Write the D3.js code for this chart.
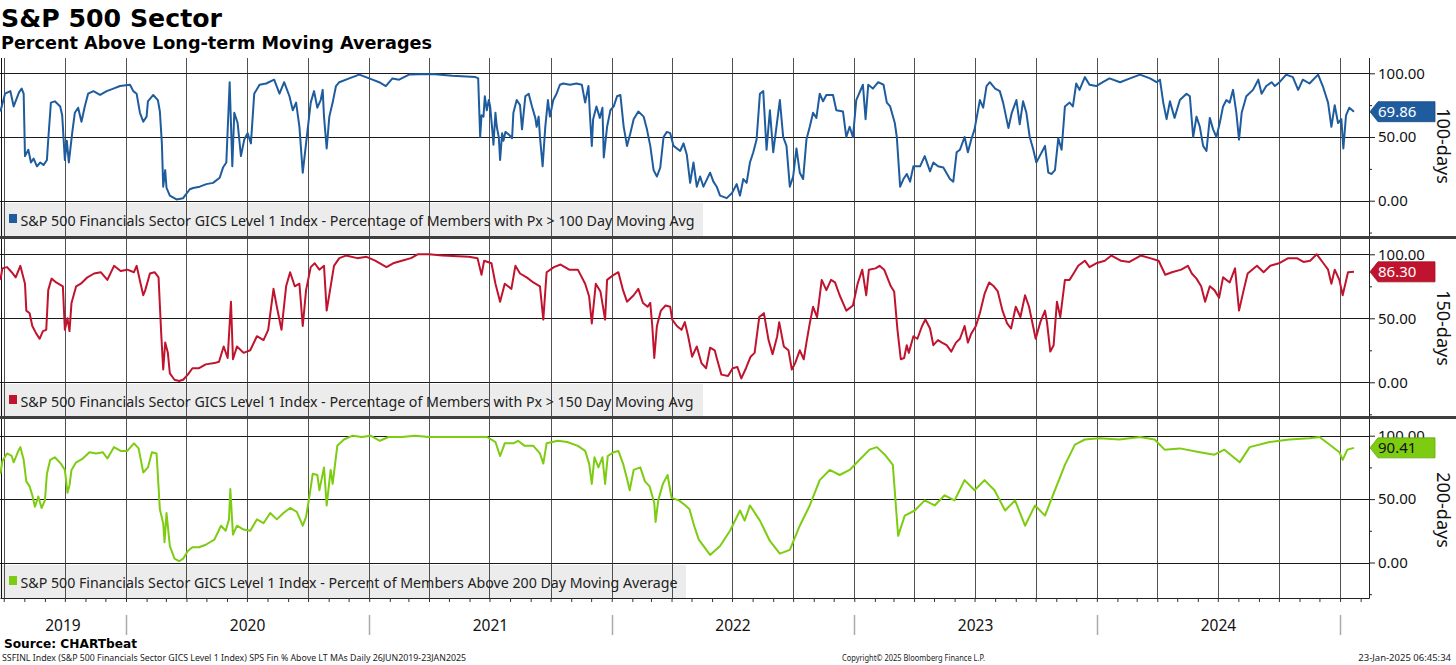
<!DOCTYPE html>
<html>
<head>
<meta charset="utf-8">
<script src="https://cdn.jsdelivr.net/npm/d3@7"></script>
<style>
  body { margin: 0; background: #fff; }
  svg { display: block; font-family: "Noto Sans", sans-serif; }
</style>
</head>
<body>
<svg id="chart" width="1456" height="665"></svg>
<script>
// calendar day offsets from the first date (26 Jun 2019) and % of members above the MA
const startDate = new Date(2019, 5, 26);

const days100 = [0,7,15,20,28,32,35,37,42,46,50,55,60,65,70,72,76,82,90,93,97,100,103,108,112,117,122,127,132,140,150,160,170,180,195,200,205,210,215,220,222,230,237,240,243,245,248,250,255,265,275,285,290,300,310,320,330,335,340,345,349,352,357,362,367,372,377,382,390,400,412,420,427,435,440,445,450,455,460,467,472,477,482,485,487,491,495,500,505,510,525,540,550,560,570,580,590,600,615,650,680,715,
  719,722,724,727,729,732,735,737,740,742,745,747,750,752,755,757,760,765,770,772,777,782,785,790,795,800,805,807,810,812,816,820,824,827,832,837,842,847,857,867,875,880,885,887,890,892,897,902,906,908,913,918,923,928,933,938,943,948,953,960,968,973,978,983,988,993,998,1003,1008,1013,1023,1028,1033,1038,1043,1048,1053,1058,1068,1073,1078,1083,1093,1101,1108,1113,1118,1123,1128,1133,1138,1143,1148,1153,1158,1163,1173,1178,1183,1188,1193,1198,1203,1208,1213,1218,1223,1228,1233,1238,1243,1253,1258,1268,1273,1278,1283,1288,1298,1302,1306,1313,1321,1329,1334,1339,1346,1349,1354,
  1359,1364,1369,1374,1384,1391,1399,1404,1411,1419,1429,1434,1439,1444,1451,1456,1461,1466,1474,1479,1484,1489,1497,1504,1509,1517,1522,1529,1534,1539,1544,1549,1554,1559,1564,1572,1577,1582,1587,1592,1597,1602,1609,1614,1619,1624,1632,1639,1649,1659,1669,1685,1700,1715,1730,1740,1745,1750,1755,1760,1767,1775,1785,1790,1795,1800,1805,1810,1815,1820,1825,1830,1835,1840,1845,1850,1855,1860,1864,1868,1875,1885,1893,1898,1905,1913,1918,1925,1935,1945,1953,1960,1970,1983,1990,1998,2003,2008,2013,2018,2021,2025,2030,2037];
const pct100 = [70,84,86,74,85,88,84,35,40,30,33,27,30,28,32,48,77,78,74,67,32,47,30,53,69,73,62,74,84,86,83,86,88,90,91,86,84,69,62,66,78,83,79,70,45,11,24,10,4,1,2,9,10,11,13,14,18,26,30,93,27,69,61,35,48,53,45,84,91,92,95,84,93,82,71,77,58,22,45,77,86,73,79,87,66,41,66,77,90,93,96,99,97,95,93,90,96,95,99,99.5,98,97,
  96,50,67,66,82,71,79,74,57,44,69,58,50,32,53,47,54,52,49,69,79,75,56,82,84,74,65,58,66,50,27,58,79,66,79,84,91,92,91,92,91,77,90,69,43,64,74,65,73,34,58,71,74,82,83,58,43,53,64,70,66,56,43,24,19,26,50,54,53,43,39,45,36,14,30,11,19,11,22,15,11,4,2,6,13,4,17,14,30,38,48,84,86,40,71,38,79,50,43,11,19,41,22,17,48,58,69,65,84,78,83,83,71,70,50,58,50,79,91,64,91,88,93,91,77,74,61,50,11,
  17,21,15,27,27,35,23,30,27,26,17,15,38,40,50,38,48,56,79,73,90,93,88,86,77,57,69,79,60,78,69,50,41,30,35,43,22,21,24,49,40,74,77,74,92,87,97,91,90,93,96,93,96,99,96,93,95,77,64,78,65,79,84,82,50,66,58,43,39,65,56,50,61,74,79,77,87,69,48,69,82,87,95,84,90,93,90,93,99,97,87,95,92,99,90,77,58,75,61,64,41,67,73,69.86];

const days150 = [0,3,10,17,23,30,37,39,44,48,54,59,64,69,72,77,84,94,97,101,104,107,114,121,131,141,151,161,171,181,191,201,205,211,215,218,225,232,238,242,245,248,252,255,262,269,275,282,289,299,309,322,329,336,342,347,350,356,366,376,386,396,403,411,416,423,430,436,443,450,455,460,467,473,480,487,491,497,502,510,520,537,551,564,581,591,604,618,628,645,665,705,718,724,728,739,745,752,759,769,775,782,792,802,812,817,822,833,843,856,869,880,886,890,896,903,910,913,923,930,937,943,953,960,967,974,
  978,981,984,988,994,1001,1008,1011,1018,1025,1030,1035,1041,1048,1055,1062,1068,1075,1078,1085,1095,1102,1109,1115,1122,1129,1135,1142,1149,1156,1162,1169,1172,1179,1186,1191,1196,1203,1209,1213,1218,1223,1229,1236,1243,1250,1256,1263,1273,1283,1290,1297,1303,1307,1317,1323,1330,1340,1345,1350,1355,1360,1364,1367,1374,1380,1387,1392,1399,1404,1411,1417,1424,1431,1438,1444,1451,1456,1461,1468,1474,1481,1488,1495,1501,1508,1515,1521,1528,1535,1542,1548,1554,1558,1565,1572,1575,1580,1585,1590,1595,1602,1609,1615,1622,1632,1639,1649,1662,1672,1686,1699,1716,1730,1743,1753,1763,1777,1787,1793,1800,1807,1813,1820,1827,1834,1840,1850,1858,1864,1871,1877,1891,1901,1911,1924,1938,1951,1961,1971,1981,1991,1998,2003,2008,2015,2020,2028,2037];
const pct150 = [80,89,90,86,82,91,77,56,54,44,38,34,40,41,72,81,78,75,41,50,40,62,75,77,82,85,86,80,91,87,88,86,91,77,68,72,85,86,82,38,10,31,23,7,2,1,2,6,11,11,14,15,16,28,19,63,18,28,23,25,36,33,41,73,59,41,75,86,75,77,44,72,90,93,88,91,56,75,91,97,99,97,98,95,90,93,95,97,100,100,99,98,97,84,95,93,77,63,77,73,91,85,82,78,75,49,86,90,92,88,88,77,67,46,77,71,49,80,84,86,72,63,68,73,62,59,
  62,44,19,44,56,60,59,49,44,41,47,36,20,28,15,11,27,25,19,6,5,11,12,3,11,20,23,51,54,33,22,36,47,28,25,10,15,25,18,31,46,59,51,80,72,80,78,68,56,60,77,88,68,88,89,91,88,75,71,41,18,19,29,23,36,34,44,49,42,29,33,31,29,24,31,34,44,31,38,44,54,69,78,75,71,56,46,42,59,51,68,59,44,34,47,56,47,24,29,63,51,80,80,85,91,95,90,93,95,99,95,94,99,97,95,84,86,88,91,85,81,75,63,75,72,66,82,78,89,56,72,85,91,86,91,93,97,97,94,95,100,93,88,77,88,80,68,86,86.3];

const days200 = [0,3,10,17,20,27,30,35,39,44,48,52,57,62,67,70,75,82,91,97,101,104,107,114,124,134,144,154,161,171,181,191,201,208,215,222,228,235,240,245,247,250,255,262,269,275,282,289,299,309,322,332,339,344,346,350,356,366,376,386,396,406,416,426,436,446,455,460,465,470,477,480,487,491,497,500,507,517,530,544,557,571,584,604,624,645,671,712,732,739,745,752,759,772,779,789,802,812,817,822,839,853,869,880,886,890,894,900,906,910,914,923,930,937,943,947,953,963,970,977,984,986,990,997,1004,1010,1021,1031,1037,1044,1051,
  1068,1083,1098,1113,1120,1128,1143,1158,1173,1188,1203,1218,1233,1248,1263,1278,1293,1308,1319,1331,1343,1351,1361,1376,1391,1406,1421,1436,1451,1466,1481,1496,1512,1527,1542,1557,1572,1587,1602,1617,1632,1654,1684,1715,1737,1752,1775,1805,1827,1842,1865,1880,1910,1940,1970,1985,2000,2015,2020,2027,2037];
const pct200 = [70,80,86,84,79,88,91,81,64,60,53,44,52,43,49,70,81,83,78,73,55,61,73,79,82,87,86,87,82,91,88,88,94,90,71,75,87,86,42,31,16,39,13,3,1,3,9,12,12,14,18,29,25,34,58,22,29,26,25,34,31,39,34,39,43,40,29,36,52,70,69,57,75,45,73,62,92,97,100,99,100,96,99,99,100,99,99,99,99,97,95,84,94,94,96,92,92,86,78,94,96,95,92,88,78,62,83,75,83,62,84,87,88,78,66,57,73,75,64,60,47,32,49,62,69,51,49,45,42,29,18,
  6,13,25,41,33,45,33,17,7,10,29,45,65,73,69,73,81,89,91,85,77,21,37,41,49,45,53,49,65,57,65,57,41,49,29,45,37,57,77,93,97,98,97,99,97,89,90,87,85,89,79,91,95,97,98,99,93,87,81,89,90.41];

const lastValues = [69.86, 86.30, 90.41];
const axisTitles = ["100-days", "150-days", "200-days"];
const legendLabels = [
  "S&P 500 Financials Sector GICS Level 1 Index - Percentage of Members with Px > 100 Day Moving Avg",
  "S&P 500 Financials Sector GICS Level 1 Index - Percentage of Members with Px > 150 Day Moving Avg",
  "S&P 500 Financials Sector GICS Level 1 Index - Percent of Members Above 200 Day Moving Average"
];
const majorTicks = [0, 50, 100];
const minorTicks = [-25, 25, 75];
const yearLabels = [2019, 2020, 2021, 2022, 2023, 2024];

const svg = d3.select("#chart");
const W = 1456, plotRight = 1369;

const x = d3.scaleTime()
    .domain([new Date(2019, 5, 26), new Date(2025, 1, 13)])
    .range([0.4, 1368.6]);

// titles
svg.append("text").attr("x", 1).attr("y", 27)
    .attr("font-family", "DejaVu Sans").attr("font-weight", "bold").attr("font-size", 25)
    .attr("textLength", 221).attr("lengthAdjust", "spacingAndGlyphs")
    .text("S&P 500 Sector");
svg.append("text").attr("x", 1).attr("y", 49)
    .attr("font-family", "DejaVu Sans").attr("font-weight", "bold").attr("font-size", 18)
    .attr("textLength", 431).attr("lengthAdjust", "spacingAndGlyphs")
    .text("Percent Above Long-term Moving Averages");

const panels = [
    {top: 58, bottom: 236, y0: 200.7, y100: 73.3, legendTop: 203, legendW: 703, textW: 674,
     days: days100, values: pct100, color: "#1f5c9e", tagText: "#fff", titleY: 146},
    {top: 239, bottom: 416, y0: 382.3, y100: 254.3, legendTop: 384, legendW: 703, textW: 673,
     days: days150, values: pct150, color: "#c0142e", tagText: "#fff", titleY: 328},
    {top: 419, bottom: 598, y0: 562.5, y100: 435.7, legendTop: 565, legendW: 686, textW: 657,
     days: days200, values: pct200, color: "#7dcc12", tagText: "#111", titleY: 510}
];

const quarters = d3.timeMonth.every(3).range(new Date(2019, 5, 1), new Date(2025, 1, 13))
    .filter(d => x(d) > 0);

panels.forEach((p, i) => {
    const y = d3.scaleLinear().domain([0, 100]).range([p.y0, p.y100]);
    const g = svg.append("g");

    g.append("clipPath").attr("id", "clip" + i)
        .append("rect").attr("x", 0).attr("y", p.top).attr("width", plotRight).attr("height", p.bottom - p.top);

    // legend background first so grid shows through it
    g.append("rect").attr("x", 0).attr("y", p.legendTop)
        .attr("width", p.legendW).attr("height", p.bottom - p.legendTop)
        .attr("fill", "#ececec");

    // grid
    g.selectAll(".hg").data(majorTicks).enter().append("line")
        .attr("x1", 0).attr("x2", plotRight)
        .attr("y1", d => Math.round(y(d)) + 0.5).attr("y2", d => Math.round(y(d)) + 0.5)
        .attr("stroke", "#1a1a1a").attr("stroke-width", 1);
    g.selectAll(".vg").data(quarters).enter().append("line")
        .attr("x1", d => Math.round(x(d)) + 0.5).attr("x2", d => Math.round(x(d)) + 0.5)
        .attr("y1", p.top).attr("y2", p.bottom)
        .attr("stroke", "#333").attr("stroke-opacity", 0.85).attr("stroke-width", 1);
    g.append("line").attr("x1", 1.5).attr("x2", 1.5).attr("y1", p.top).attr("y2", p.bottom)
        .attr("stroke", "#111");

    // series
    const pts = p.days.map((d, k) => [d3.timeDay.offset(startDate, d), p.values[k]]);
    g.append("path").datum(pts)
        .attr("clip-path", `url(#clip${i})`)
        .attr("fill", "none").attr("stroke", p.color).attr("stroke-width", 2)
        .attr("stroke-linejoin", "round")
        .attr("d", d3.line().x(d => x(d[0])).y(d => y(d[1])));

    // legend
    g.append("rect").attr("x", 9).attr("y", p.legendTop + 11).attr("width", 8).attr("height", 9)
        .attr("fill", p.color);
    g.append("text").attr("x", 20.5).attr("y", p.legendTop + 22.5)
        .attr("font-size", 14).attr("fill", "#222")
        .attr("textLength", p.textW).attr("lengthAdjust", "spacingAndGlyphs")
        .text(legendLabels[i]);

    // right axis
    const ax = g.append("g").attr("transform", `translate(${plotRight},0)`);
    ax.call(d3.axisRight(y).tickValues(majorTicks).tickSize(6).tickPadding(3).tickFormat(d3.format(".2f")));
    ax.append("g").call(d3.axisRight(y).tickValues(minorTicks).tickSize(3).tickFormat(""));
    ax.selectAll(".domain").remove();
    ax.selectAll("line").attr("stroke", "#222");
    ax.selectAll("text").attr("font-size", 15).attr("font-family", "Noto Sans").attr("fill", "#111");

    // last value tag
    const yv = y(lastValues[i]);
    g.append("path")
        .attr("d", `M${plotRight + 1},${yv} L${plotRight + 9},${yv - 10} L1435,${yv - 10} L1435,${yv + 10} L${plotRight + 9},${yv + 10} Z`)
        .attr("fill", p.color).attr("stroke", d3.color(p.color).darker(0.6)).attr("stroke-width", 0.8);
    g.append("text").attr("x", plotRight + 9).attr("y", yv + 5.5)
        .attr("font-size", 15).attr("fill", p.tagText)
        .text(lastValues[i].toFixed(2));

    g.append("text")
        .attr("transform", `translate(1437,${p.titleY}) rotate(90)`)
        .attr("text-anchor", "middle").attr("font-size", 18).attr("fill", "#111")
        .text(axisTitles[i]);
});

// right axis line and panel separators
svg.append("line").attr("x1", plotRight + 0.5).attr("x2", plotRight + 0.5).attr("y1", 58).attr("y2", 598)
    .attr("stroke", "#222");
[236, 416].forEach(yy => {
    svg.append("rect").attr("x", 0).attr("y", yy).attr("width", W).attr("height", 3).attr("fill", "#3e3e3e");
});

// bottom time axis
const bx = svg.append("g").attr("transform", "translate(0,598)");
bx.call(d3.axisBottom(x).ticks(d3.timeMonth.every(1)).tickSize(4).tickFormat(""));
bx.select(".domain").attr("d", `M0.5,0.5H${plotRight + 0.5}V-4`).attr("stroke", "#222");
bx.selectAll(".tick line").attr("stroke", "#333");

const yearStarts = yearLabels.slice(1).concat([2025]).map(yr => new Date(yr, 0, 1));
svg.selectAll(".ysep").data(yearStarts).enter().append("line")
    .attr("x1", d => Math.round(x(d)) + 0.5).attr("x2", d => Math.round(x(d)) + 0.5)
    .attr("y1", 615).attr("y2", 635)
    .attr("stroke", "#aaa").attr("stroke-width", 1.5);
svg.selectAll(".ylab").data(yearLabels).enter().append("text")
    .attr("x", yr => (Math.max(0, x(new Date(yr, 0, 1))) + x(new Date(yr + 1, 0, 1))) / 2)
    .attr("y", 631).attr("text-anchor", "middle").attr("font-size", 15.5).attr("fill", "#111")
    .text(d => d);

// footer
svg.append("text").attr("x", 4).attr("y", 648)
    .attr("font-family", "DejaVu Sans").attr("font-weight", "bold").attr("font-size", 13)
    .attr("textLength", 133).attr("lengthAdjust", "spacingAndGlyphs")
    .text("Source: CHARTbeat");
svg.append("text").attr("x", 2).attr("y", 661).attr("font-size", 9.5).attr("fill", "#222")
    .attr("textLength", 464).attr("lengthAdjust", "spacingAndGlyphs")
    .text("SSFINL Index (S&P 500 Financials Sector GICS Level 1 Index) SPS Fin % Above LT MAs  Daily 26JUN2019-23JAN2025");
svg.append("text").attr("x", 842).attr("y", 661).attr("font-size", 9.5).attr("fill", "#222")
    .attr("textLength", 143).attr("lengthAdjust", "spacingAndGlyphs")
    .text("Copyright© 2025 Bloomberg Finance L.P.");
svg.append("text").attr("x", 1451).attr("y", 661).attr("font-size", 9.5).attr("fill", "#222")
    .attr("text-anchor", "end")
    .text("23-Jan-2025 06:45:34");
</script>
</body>
</html>
